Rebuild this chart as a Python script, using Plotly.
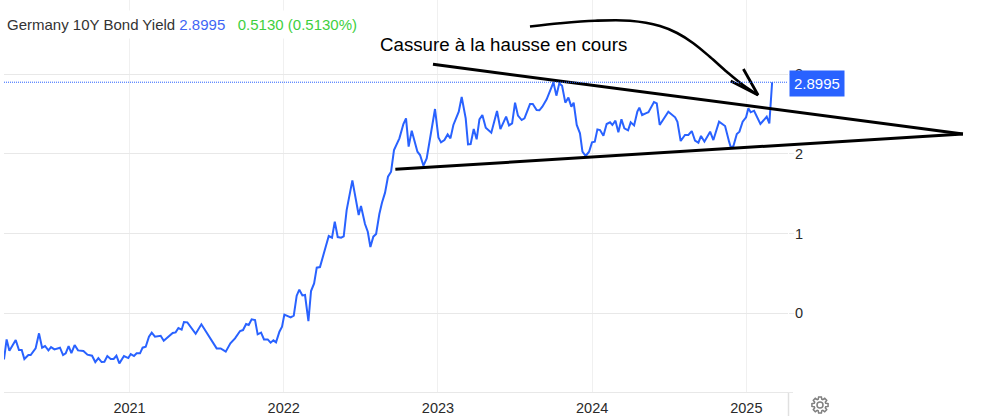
import math
import plotly.graph_objects as go

W, H = 981, 416

years = [2020.186,2020.203,2020.221,2020.262,2020.283,2020.301,2020.318,2020.344,2020.359,2020.391,2020.413,2020.433,2020.452,2020.474,2020.491,2020.513,2020.549,2020.569,2020.586,2020.605,2020.623,2020.644,2020.666,2020.701,2020.727,2020.757,2020.778,2020.798,2020.819,2020.837,2020.856,2020.878,2020.897,2020.915,2020.934,2020.964,2020.992,
2021.008,2021.029,2021.046,2021.068,2021.085,2021.105,2021.126,2021.144,2021.165,2021.202,2021.222,2021.280,2021.299,2021.317,2021.338,2021.353,2021.375,2021.429,2021.466,2021.565,2021.591,2021.624,2021.654,2021.684,2021.717,2021.736,2021.756,2021.773,2021.792,2021.814,2021.831,2021.853,2021.872,2021.896,2021.915,2021.933,2021.950,2021.972,2021.989,
2022.004,2022.045,2022.065,2022.084,2022.101,2022.121,2022.138,2022.160,2022.177,2022.197,2022.214,2022.235,2022.292,2022.313,2022.331,2022.350,2022.372,2022.389,2022.408,2022.445,2022.486,2022.501,2022.527,2022.545,2022.562,2022.581,2022.599,2022.620,2022.637,2022.657,2022.676,
2022.696,2022.715,2022.750,2022.776,2022.793,2022.810,2022.830,2022.867,2022.884,2022.906,2022.927,2022.981,
2023.003,2023.020,2023.042,2023.063,2023.081,2023.100,2023.135,2023.154,2023.180,2023.195,2023.212,2023.232,2023.251,2023.269,2023.288,2023.310,2023.346,2023.383,2023.405,2023.442,2023.461,2023.481,2023.500,2023.519,2023.543,2023.561,2023.597,2023.615,2023.640,2023.658,2023.677,2023.705,2023.727,2023.749,2023.768,2023.787,2023.805,2023.826,2023.846,2023.865,2023.880,2023.900,2023.921,2023.937,2023.958,2023.980,2023.999,
2024.017,2024.034,2024.051,2024.073,2024.094,2024.116,2024.131,2024.151,2024.170,2024.190,2024.209,2024.233,2024.250,2024.272,2024.293,2024.306,2024.324,2024.347,2024.365,2024.401,2024.419,2024.438,
2024.494,2024.538,2024.553,2024.574,2024.602,2024.624,2024.646,2024.667,2024.689,2024.706,2024.728,2024.765,2024.786,2024.823,2024.862,2024.888,2024.899,2024.916,2024.938,2024.955,2024.976,2024.998,
2025.013,2025.028,2025.050,2025.091,2025.132,2025.149,2025.167]

yields = [-.578,-.327,-.469,-.335,-.460,-.460,-.573,-.523,-.523,-.440,-.251,-.431,-.410,-.465,-.423,-.452,-.431,-.523,-.502,-.410,-.498,-.398,-.465,-.473,-.519,-.532,-.611,-.561,-.611,-.607,-.536,-.573,-.573,-.532,-.628,-.536,-.561,
-.511,-.536,-.502,-.502,-.431,-.419,-.293,-.243,-.293,-.281,-.343,-.247,-.239,-.184,-.205,-.109,-.113,-.256,-.138,-.440,-.440,-.481,-.377,-.314,-.222,-.210,-.134,-.147,-.076,-.084,-.264,-.243,-.327,-.327,-.368,-.339,-.364,-.230,-.168,
-.017,-.051,-.030,.221,.297,.225,.230,-.097,.280,.376,.573,.581,.970,.949,1.150,.957,.949,.966,1.296,1.668,1.233,1.346,1.120,1.024,.832,.962,.995,1.246,1.388,1.514,1.714,
1.777,2.049,2.195,2.375,2.446,2.091,2.292,2.028,1.986,1.852,1.944,2.563,
2.208,2.145,2.174,2.245,2.195,2.363,2.530,2.714,2.446,2.120,2.124,2.312,2.183,2.434,2.488,2.329,2.266,2.538,2.312,2.467,2.358,2.384,2.643,2.480,2.425,2.446,2.626,2.626,2.551,2.547,2.593,2.685,2.802,2.898,2.731,2.885,2.856,2.643,2.706,2.593,2.643,2.363,2.258,2.028,1.974,2.028,2.145,
2.154,2.308,2.300,2.229,2.375,2.396,2.363,2.417,2.271,2.434,2.321,2.296,2.396,2.358,2.530,2.580,2.488,2.509,2.522,2.651,2.634,2.363,
2.530,2.459,2.404,2.162,2.237,2.237,2.287,2.166,2.141,2.225,2.154,2.279,2.174,2.404,2.350,2.154,2.082,2.099,2.250,2.279,2.404,2.459,
2.572,2.522,2.542,2.375,2.467,2.384,2.8995]

year_ticks = [2021, 2022, 2023, 2024, 2025]
value_ticks = [0, 1, 2, 3]
last_value = 2.8995

# hand-drawn annotations, in the chart's own units
upper_x = [2022.968, 2026.405]
upper_y = [3.124, 2.250]
lower_x = [2022.724, 2026.405]
lower_y = [1.807, 2.250]
arrow_x = [2023.597, 2023.792, 2024.019, 2024.246, 2024.440, 2024.551, 2024.654, 2024.765, 2024.875, 2024.979, 2025.076]
arrow_y = [3.598, 3.639, 3.671, 3.671, 3.605, 3.517, 3.392, 3.216, 3.028, 2.864, 2.739]
barb_x = [2024.981, 2025.076, 2024.899]
barb_y = [3.065, 2.739, 2.915]

FONT = "Liberation Sans, Arial, sans-serif"
BLUE = "#2962ff"
GRID = "#e8e8e8"
VGRID = "#f0f0f0"
AXIS = "#e0e0e0"

def px(x): return x / W
def py(y): return 1 - y / H

fig = go.Figure()
fig.add_trace(go.Scatter(x=years, y=yields, mode="lines", line=dict(color=BLUE, width=2), hoverinfo="skip"))
for xs, ys, w in [(upper_x, upper_y, 3), (lower_x, lower_y, 3), (arrow_x, arrow_y, 2.6), (barb_x, barb_y, 2.8)]:
    fig.add_trace(go.Scatter(x=xs, y=ys, xaxis="x2", yaxis="y2", mode="lines",
                             line=dict(color="black", width=w, shape="spline" if xs is arrow_x else "linear"),
                             hoverinfo="skip"))

fig.add_shape(type="line", xref="paper", yref="y", x0=px(4), x1=px(788), y0=last_value, y1=last_value,
              line=dict(color=BLUE, width=1, dash="1px,1px"))
fig.add_shape(type="line", xref="paper", yref="paper", x0=px(788.5), x1=px(788.5), y0=py(392), y1=0,
              line=dict(color=AXIS, width=1.5))
fig.add_shape(type="line", xref="paper", yref="paper", x0=px(788), x1=px(793), y0=py(392.5), y1=py(392.5),
              line=dict(color=GRID, width=1))

# settings gear, outline
cx, cy = 820, 405
pts = []
for i in range(8):
    a = i * math.pi / 4
    for da, r in [(-0.30, 6.0), (-0.17, 8.2), (0.17, 8.2), (0.30, 6.0)]:
        pts.append((cx + r * math.cos(a + da), cy + r * math.sin(a + da)))
gear = "M " + " L ".join(f"{px(a):.5f},{py(b):.5f}" for a, b in pts) + " Z"
fig.add_shape(type="path", xref="paper", yref="paper", path=gear, line=dict(color="#808080", width=1.5))
fig.add_shape(type="circle", xref="paper", yref="paper", x0=px(cx-3), x1=px(cx+3), y0=py(cy+3), y1=py(cy-3),
              line=dict(color="#808080", width=1.5))

fig.add_annotation(xref="paper", yref="paper", x=px(1), y=py(24), xanchor="left", yanchor="middle", showarrow=False,
                   align="left", bgcolor="white", borderpad=5,
                   text='<span style="color:#333333">Germany 10Y Bond Yield</span> '
                        '<span style="color:#3f66f5">2.8995</span>   '
                        '<span style="color:#3ecf3e">0.5130 (0.5130%)</span>',
                   font=dict(family=FONT, size=15))
fig.add_annotation(xref="paper", yref="paper", x=px(378), y=py(45), xanchor="left", yanchor="middle", showarrow=False,
                   text="Cassure à la hausse en cours", font=dict(family=FONT, size=18.7, color="black"))
fig.add_annotation(xref="paper", yref="y", x=px(789), y=last_value, xanchor="left", yanchor="middle", yshift=-1,
                   showarrow=False, text="2.8995", bgcolor=BLUE, borderpad=4,
                   font=dict(family=FONT, size=15, color="white"))

fig.update_layout(
    width=W, height=H, autosize=False, showlegend=False,
    margin=dict(l=0, r=0, t=0, b=0), paper_bgcolor="white", plot_bgcolor="rgba(0,0,0,0)",
    font=dict(family=FONT, size=14.5, color="#2a2a2a"),
    xaxis=dict(domain=[px(4), px(788)], range=[2020.186, 2025.270], tickmode="array", tickvals=year_ticks,
               ticktext=[str(y) for y in year_ticks], showgrid=True, gridcolor=VGRID, gridwidth=1,
               zeroline=False, showline=True, linecolor=GRID, ticks="", anchor="y", ticklabelstandoff=3),
    yaxis=dict(domain=[py(392), 1], range=[-0.987, 3.931], side="right", tickmode="array", tickvals=value_ticks,
               ticktext=[str(v) for v in value_ticks], showgrid=True, gridcolor=GRID, gridwidth=1,
               zeroline=False, ticks="outside", ticklen=5, tickcolor=GRID, anchor="x", showline=False,
               ticklabelstandoff=-2),
    xaxis2=dict(domain=[0, 1], range=[2020.160, 2026.522], visible=False, anchor="y2"),
    yaxis2=dict(domain=[0, 1], range=[-1.289, 3.931], visible=False, anchor="x2"),
)
fig.write_html("out.html", config=dict(displayModeBar=False),
               post_script="document.body.style.margin='0';document.body.style.overflow='hidden';")
